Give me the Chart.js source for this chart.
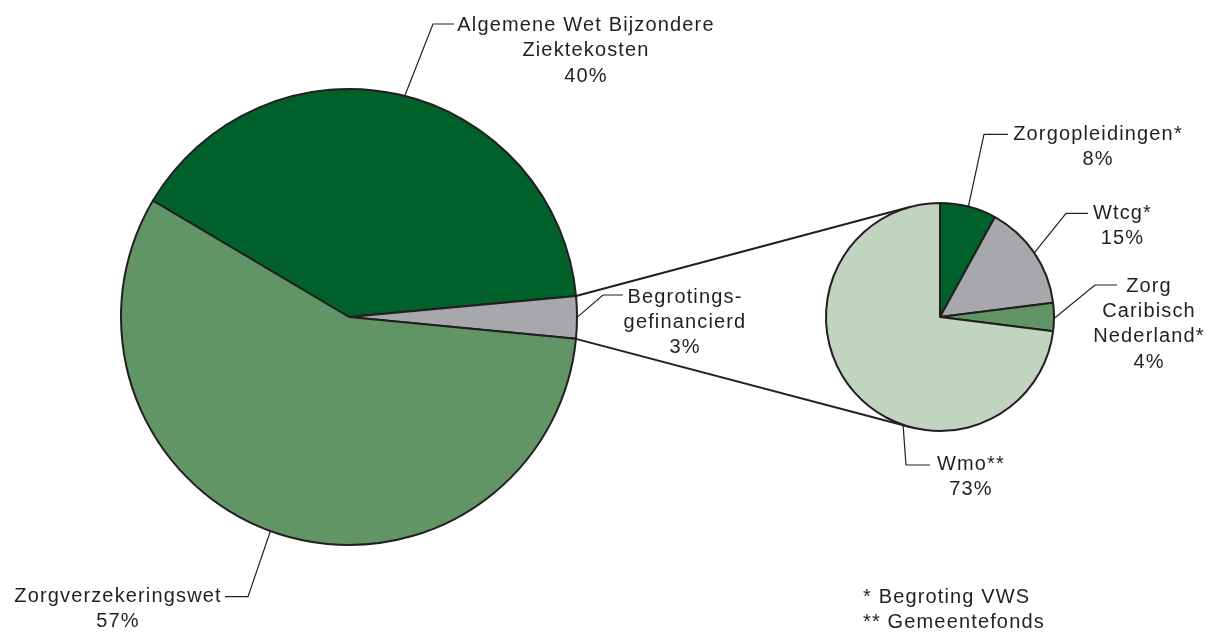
<!DOCTYPE html>
<html>
<head>
<meta charset="utf-8">
<script src="https://cdn.jsdelivr.net/npm/chart.js@4.4.1/dist/chart.umd.min.js"></script>
<style>
  html, body { margin: 0; padding: 0; background: #fff; }
  #wrap { position: relative; width: 1209px; height: 632px; overflow: hidden; }
  #wrap canvas { position: absolute; left: 0; top: 0; }
</style>
</head>
<body>
<div id="wrap">
  <canvas id="mainPie" width="1209" height="632"></canvas>
  <canvas id="detailPie" width="1209" height="632"></canvas>
</div>
<script>
// Financing sources (left pie)
const mainLabels = [['Algemene Wet Bijzondere', 'Ziektekosten'], ['Begrotings-', 'gefinancierd'], ['Zorgverzekeringswet']];
const mainValues = [40, 3, 57];

// Breakdown of the budget-financed part (right pie)
const detailLabels = [['Zorgopleidingen*'], ['Wtcg*'], ['Zorg', 'Caribisch', 'Nederland*'], ['Wmo**']];
const detailValues = [8, 15, 4, 73];

const footnotes = ['* Begroting VWS', '** Gemeentefonds'];

const INK = '#231f20';
const FONT = '20px "Liberation Sans", Arial, sans-serif';
const LINE_GAP = 25.3;

let mainChart = null;
let detailChart = null;

function setText(ctx) {
    ctx.font = FONT;
    ctx.fillStyle = INK;
    ctx.letterSpacing = '1.15px';
}

// Labels with elbow leader lines, attached to the slice edge
const leaderLabels = {
    id: 'leaderLabels',
    afterDatasetsDraw(chart, args, opts) {
        const ctx = chart.ctx;
        const arcs = chart.getDatasetMeta(0).data;
        const labels = chart.data.labels;
        const values = chart.data.datasets[0].data;
        ctx.save();
        opts.items.forEach((item, i) => {
            const arc = arcs[i];
            const a = arc.startAngle + (arc.endAngle - arc.startAngle) * item.at;
            const px = arc.x + Math.cos(a) * arc.outerRadius;
            const py = arc.y + Math.sin(a) * arc.outerRadius;
            ctx.strokeStyle = INK;
            ctx.lineWidth = 1.2;
            ctx.beginPath();
            ctx.moveTo(px, py);
            ctx.lineTo(item.elbow[0], item.elbow[1]);
            ctx.lineTo(item.tail, item.elbow[1]);
            ctx.stroke();

            setText(ctx);
            ctx.textAlign = 'center';
            ctx.textBaseline = 'alphabetic';
            const lines = labels[i].concat(values[i] + '%');
            lines.forEach((line, k) => ctx.fillText(line, item.cx, item.base + k * LINE_GAP));
        });
        ctx.restore();
    }
};

// Lines from the small slice of the main pie, tangent to the detail pie
const zoomLines = {
    id: 'zoomLines',
    beforeDatasetsDraw(chart, args, opts) {
        if (!mainChart) return;
        const src = mainChart.getDatasetMeta(0).data[opts.index];
        const dst = chart.getDatasetMeta(0).data[0];
        const r = dst.outerRadius;
        const ctx = chart.ctx;
        ctx.save();
        ctx.strokeStyle = INK;
        ctx.lineWidth = 2;
        [[src.startAngle, 1], [src.endAngle, -1]].forEach(([ang, side]) => {
            const px = src.x + Math.cos(ang) * src.outerRadius;
            const py = src.y + Math.sin(ang) * src.outerRadius;
            const d = Math.hypot(px - dst.x, py - dst.y);
            const phi = Math.atan2(py - dst.y, px - dst.x);
            const t = phi + side * Math.acos(r / d);
            ctx.beginPath();
            ctx.moveTo(px, py);
            ctx.lineTo(dst.x + Math.cos(t) * r, dst.y + Math.sin(t) * r);
            ctx.stroke();
        });
        ctx.restore();
    },
    afterDraw(chart, args, opts) {
        const ctx = chart.ctx;
        ctx.save();
        setText(ctx);
        ctx.textAlign = 'left';
        ctx.textBaseline = 'alphabetic';
        footnotes.forEach((line, k) => ctx.fillText(line, opts.notes[0], opts.notes[1] + k * 25.6));
        ctx.restore();
    }
};

// Initialize charts
function initializeCharts() {
    mainChart = new Chart(document.getElementById('mainPie'), {
        type: 'pie',
        data: {
            labels: mainLabels,
            datasets: [{
                data: mainValues,
                backgroundColor: ['#00612a', '#a6a8ab', '#629566'],
                borderColor: INK,
                borderWidth: 2
            }]
        },
        options: {
            responsive: false,
            animation: false,
            rotation: -59.3,
            radius: 228,
            layout: { padding: { left: 119, right: 630, top: 87, bottom: 85 } },
            plugins: {
                legend: { display: false },
                tooltip: { enabled: false },
                leaderLabels: {
                    items: [
                        { at: 0.51, elbow: [433, 24], tail: 454, cx: 586, base: 31 },
                        { at: 0.5, elbow: [603, 295], tail: 623, cx: 685, base: 302.7 },
                        { at: 0.51, elbow: [248, 596.7], tail: 225, cx: 118, base: 601.7 }
                    ]
                }
            }
        },
        plugins: [leaderLabels]
    });

    detailChart = new Chart(document.getElementById('detailPie'), {
        type: 'pie',
        data: {
            labels: detailLabels,
            datasets: [{
                data: detailValues,
                backgroundColor: ['#00612a', '#a6a8ab', '#629566', '#c0d4bf'],
                borderColor: INK,
                borderWidth: 2
            }]
        },
        options: {
            responsive: false,
            animation: false,
            rotation: 0,
            radius: 114,
            layout: { padding: { left: 820, right: 149, top: 197, bottom: 195 } },
            plugins: {
                legend: { display: false },
                tooltip: { enabled: false },
                zoomLines: { index: 1, notes: [863, 602.7] },
                leaderLabels: {
                    items: [
                        { at: 0.5, elbow: [984, 134.3], tail: 1008, cx: 1098, base: 140 },
                        { at: 0.5, elbow: [1066, 213.3], tail: 1088, cx: 1122.5, base: 219 },
                        { at: 0.55, elbow: [1095, 285], tail: 1117, cx: 1149, base: 291.7 },
                        { at: 0.387, elbow: [906, 465], tail: 930, cx: 971, base: 470 }
                    ]
                }
            }
        },
        plugins: [zoomLines, leaderLabels]
    });
}

document.addEventListener('DOMContentLoaded', initializeCharts);
</script>
</body>
</html>
